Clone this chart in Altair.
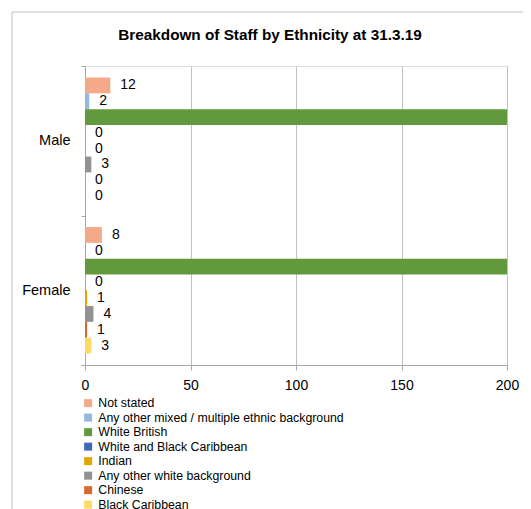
import altair as alt
import pandas as pd

genders = ["Male", "Female"]
ethnicities = [
    "Not stated",
    "Any other mixed / multiple ethnic background",
    "White British",
    "White and Black Caribbean",
    "Indian",
    "Any other white background",
    "Chinese",
    "Black Caribbean",
]
colors = ["#F4A989", "#95B8E0", "#63993D", "#4169B3", "#E3A600", "#929292", "#D8692A", "#FFD966"]
male_values = [12, 2, 215, 0, 0, 3, 0, 0]
female_values = [8, 0, 270, 0, 1, 4, 1, 3]
title_text = "Breakdown of Staff by Ethnicity at 31.3.19"
axis_max = 200

rows = []
for g, vals in zip(genders, [male_values, female_values]):
    for e, v in zip(ethnicities, vals):
        rows.append({"Gender": g, "Ethnicity": e, "Value": v})
df = pd.DataFrame(rows)

FONT = "Liberation Sans"

y_enc = alt.Y(
    "Gender:N",
    sort=genders,
    title=None,
    scale=alt.Scale(paddingInner=0, paddingOuter=0),
    axis=alt.Axis(
        tickBand="extent",
        grid=False,
        domainColor="#A6A6A6",
        tickColor="#A6A6A6",
        tickSize=4,
        labelFontSize=14.5,
        labelPadding=11,
        labelColor="#000000",
        labelFont=FONT,
    ),
)
yoff_enc = alt.YOffset(
    "Ethnicity:N",
    sort=ethnicities,
    scale=alt.Scale(paddingInner=0, paddingOuter=0.73),
)
x_enc = alt.X(
    "Value:Q",
    title=None,
    scale=alt.Scale(domain=[0, axis_max], nice=False, zero=True),
    axis=alt.Axis(
        values=[0, 50, 100, 150, 200],
        grid=True,
        gridColor="#C0C0C0",
        domainColor="#A6A6A6",
        tickColor="#A6A6A6",
        tickSize=5,
        labelFontSize=14,
        labelPadding=8,
        labelFlush=False,
        labelColor="#000000",
        labelFont=FONT,
    ),
)

base = alt.Chart(df)

bars = base.mark_bar(clip=True).encode(
    y=y_enc,
    yOffset=yoff_enc,
    x=x_enc,
    color=alt.Color(
        "Ethnicity:N",
        sort=ethnicities,
        scale=alt.Scale(domain=ethnicities, range=colors),
        legend=alt.Legend(
            title=None,
            orient="none",
            legendX=-3,
            legendY=331,
            symbolType="square",
            symbolSize=64,
            symbolStrokeWidth=0,
            labelFontSize=12.3,
            labelFont=FONT,
            labelColor="#000000",
            labelOffset=4,
            rowPadding=1.5,
            labelLimit=400,
        ),
    ),
)

labels = base.transform_filter(alt.datum.Value <= axis_max).mark_text(
    align="left", baseline="middle", dx=10, fontSize=14, font=FONT, color="#000000"
).encode(
    y=y_enc,
    yOffset=yoff_enc,
    x=x_enc,
    text=alt.Text("Value:Q"),
)

frame_df = pd.DataFrame({"k": [0]})
top_rule = alt.Chart(frame_df).mark_rule(color="#BFBFBF", strokeWidth=1).encode(
    x=alt.value(-73), x2=alt.value(460), y=alt.value(-54)
)
left_rule = alt.Chart(frame_df).mark_rule(color="#BFBFBF", strokeWidth=1).encode(
    x=alt.value(-73), y=alt.value(-54), y2=alt.value(500)
)
title_mark = alt.Chart(frame_df).mark_text(
    fontSize=15.3, fontWeight="bold", font=FONT, color="#000000", align="center", baseline="middle"
).encode(
    x=alt.value(185), y=alt.value(-31), text=alt.value(title_text)
)

chart = (
    alt.layer(top_rule, left_rule, title_mark, bars, labels)
    .properties(
        width=422,
        height=299,
        padding={"left": 77, "top": 58, "right": 16, "bottom": 160},
        autosize=alt.AutoSizeParams(type="none"),
    )
    .configure_view(stroke=None)
    .configure(background="#FFFFFF")
)

chart.save("out.html", embed_options={"renderer": "svg", "actions": False})
